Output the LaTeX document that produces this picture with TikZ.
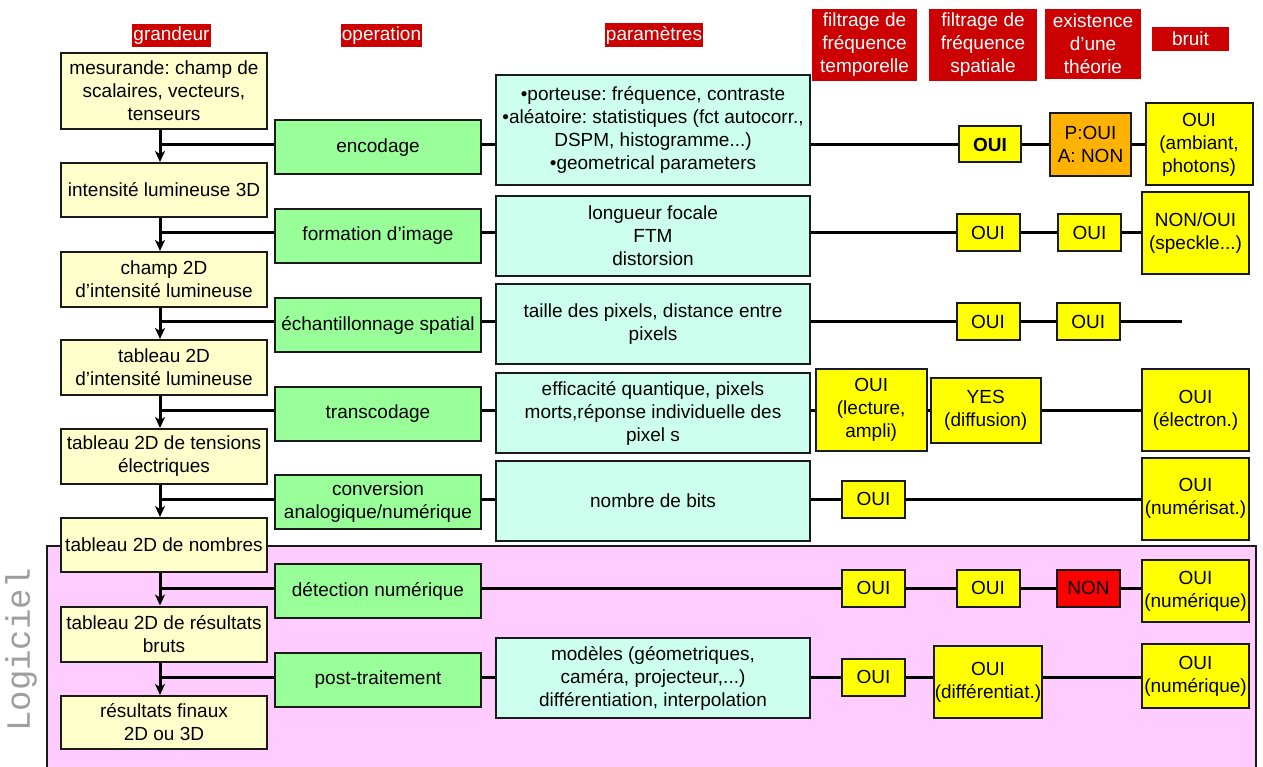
\documentclass[tikz,border=0pt]{standalone}
\usepackage{fontspec}
\setmainfont{Liberation Sans}
\newfontfamily\logifont{Liberation Mono}
\usetikzlibrary{arrows.meta}
\definecolor{hdrred}{HTML}{CC0000}
\definecolor{paleyel}{HTML}{FFFFCC}
\definecolor{opgreen}{HTML}{99FF99}
\definecolor{parcyan}{HTML}{CCFFEE}
\definecolor{resyel}{HTML}{FFFF00}
\definecolor{resorange}{HTML}{FFB300}
\definecolor{resred}{HTML}{FF0000}
\definecolor{pinkbg}{HTML}{FFCCFF}
\definecolor{edgec}{HTML}{1A1A1A}
\frenchspacing
\begin{document}
\begin{tikzpicture}[x=1pt,y=-1pt,
  every node/.style={font=\fontsize{19}{23}\selectfont, align=center, inner sep=0pt},
  hdr/.style={fill=hdrred, text=white},
  boxbase/.style={draw=edgec, line width=2pt, text=black},
  qty/.style={boxbase, fill=paleyel, minimum width=206, minimum height=55},
  oper/.style={boxbase, fill=opgreen, minimum width=206, minimum height=54},
  param/.style={boxbase, fill=parcyan, minimum width=314, minimum height=80},
  res/.style={boxbase, fill=resyel, minimum width=63, minimum height=37},
  conn/.style={draw=black, line width=3pt},
  arr/.style={conn, -{Stealth[length=11pt,width=10pt,inset=3pt]}},
]
\useasboundingbox (0,0) rectangle (1263,767);

% software region
\path[fill=pinkbg, draw=edgec, line width=1.2pt] (47,546) rectangle (1256,775);
\node[rotate=90, font=\logifont\fontsize{34}{34}\selectfont, text=black!38] (lgc) at (21,650) {Logiciel};

% headers
\node[hdr, minimum width=79, minimum height=23] (hgr) at (171.5,35.5) {grandeur};
\node[hdr, minimum width=81, minimum height=23] (hop) at (381.5,35.5) {operation};
\node[hdr, minimum width=98, minimum height=24] (hpa) at (654,35) {paramètres};
\node[hdr, minimum width=105, minimum height=72] (hft) at (864.5,45) {filtrage de\\fréquence\\temporelle};
\node[hdr, minimum width=108, minimum height=72] (hfs) at (983,45) {filtrage de\\fréquence\\spatiale};
\node[hdr, minimum width=96, minimum height=70] (het) at (1093,44) {existence\\d’une\\théorie};
\node[hdr, minimum width=77, minimum height=24] (hbr) at (1190.5,39) {bruit};

% quantities
\node[qty, minimum height=76] (b1) at (164,91) {mesurande: champ de\\scalaires, vecteurs,\\tenseurs};
\node[qty, minimum height=54] (b2) at (164,190) {intensité lumineuse 3D};
\node[qty] (b3) at (164,279.5) {champ 2D\\d’intensité lumineuse};
\node[qty] (b4) at (164,367.5) {tableau 2D\\d’intensité lumineuse};
\node[qty] (b5) at (164,456.5) {tableau 2D de tensions\\électriques};
\node[qty, minimum height=54] (b6) at (164,545) {tableau 2D de nombres};
\node[qty] (b7) at (164,634) {tableau 2D de résultats\\bruts};
\node[qty, minimum height=53] (b8) at (164,722.5) {résultats finaux\\2D ou 3D};

% operations
\node[oper] (o1) at (378,147.5) {encodage};
\node[oper] (o2) at (378,236) {formation d’image};
\node[oper] (o3) at (378,325) {échantillonnage spatial};
\node[oper] (o4) at (378,413.7) {transcodage};
\node[oper] (o5) at (378,502) {conversion\\analogique/numérique};
\node[oper] (o6) at (378,591) {détection numérique};
\node[oper] (o7) at (378,680) {post-traitement};

% parameters
\node[param, minimum height=110] (p1) at (653,130) {•porteuse: fréquence, contraste\\•aléatoire: statistiques (fct autocorr.,\\DSPM, histogramme...)\\•geometrical parameters};
\node[param] (p2) at (653,236) {longueur focale\\FTM\\distorsion};
\node[param] (p3) at (653,324) {taille des pixels, distance entre\\pixels};
\node[param] (p4) at (653,413) {efficacité quantique, pixels\\morts,réponse individuelle des\\pixel s};
\node[param] (p5) at (653,501) {nombre de bits};
\node[param] (p7) at (653,678) {modèles (géometriques,\\caméra, projecteur,...)\\différentiation, interpolation};

% results row 1
\node[res, minimum width=62, minimum height=36] (r1a) at (990,144.5) {\bfseries OUI};
\node[res, fill=resorange, minimum width=81, minimum height=63] (r1b) at (1090.5,144.5) {P:OUI\\A: NON};
\node[res, minimum width=107, minimum height=82] (r1c) at (1199,144.5) {OUI\\(ambiant,\\photons)};
% row 2
\node[res] (r2a) at (988,233) {OUI};
\node[res] (r2b) at (1089.5,233) {OUI};
\node[res, minimum width=107, minimum height=82] (r2c) at (1195.5,233) {NON/OUI\\(speckle...)};
% row 3
\node[res] (r3a) at (988,321.5) {OUI};
\node[res] (r3b) at (1088.3,321.5) {OUI};
\coordinate (e3) at (1182,321.5);
% row 4
\node[res, minimum width=111, minimum height=82] (r4a) at (871.2,410) {OUI\\(lecture,\\ampli)};
\node[res, minimum width=110, minimum height=65] (r4b) at (985.7,410) {YES\\(diffusion)};
\node[res, minimum width=107, minimum height=82] (r4c) at (1195.5,410) {OUI\\(électron.)};
% row 5
\node[res] (r5a) at (873.5,499) {OUI};
\node[res, minimum width=107, minimum height=82] (r5c) at (1195.5,498.5) {OUI\\(numérisat.)};
% row 6
\node[res] (r6a) at (873.5,588) {OUI};
\node[res] (r6b) at (988,588) {OUI};
\node[res, fill=resred] (r6c) at (1088.5,588) {NON};
\node[res, minimum width=107, minimum height=62] (r6d) at (1195.5,591) {OUI\\(numérique)};
% row 7
\node[res] (r7a) at (873.5,677) {OUI};
\node[res, minimum width=108, minimum height=72] (r7b) at (988,682) {OUI\\(différentiat.)};
\node[res, minimum width=107, minimum height=64] (r7c) at (1195.5,676) {OUI\\(numérique)};

% trunk
\coordinate (t1) at ([xshift=-4pt]b1.south);
\coordinate (t2) at ([xshift=-4pt]b2.south);
\coordinate (t3) at ([xshift=-4pt]b3.south);
\coordinate (t4) at ([xshift=-4pt]b4.south);
\coordinate (t5) at ([xshift=-4pt]b5.south);
\coordinate (t6) at ([xshift=-4pt]b6.south);
\coordinate (t7) at ([xshift=-4pt]b7.south);
\draw[arr] (t1) -- ([xshift=-4pt]b2.north);
\draw[arr] (t2) -- ([xshift=-4pt]b3.north);
\draw[arr] (t3) -- ([xshift=-4pt]b4.north);
\draw[arr] (t4) -- ([xshift=-4pt]b5.north);
\draw[arr] (t5) -- ([xshift=-4pt]b6.north);
\draw[arr] (t6) -- ([xshift=-4pt]b7.north);
\draw[arr] (t7) -- ([xshift=-4pt]b8.north);

% row 1
\draw[conn] (t1 |- r1a) -- (o1.west |- r1a);
\draw[conn] (o1.east |- r1a) -- (p1.west |- r1a);
\draw[conn] (p1.east |- r1a) -- (r1a.west);
\draw[conn] (r1a.east) -- (r1b.west);
\draw[conn] (r1b.east) -- (r1c.west |- r1b);
% row 2
\draw[conn] (t2 |- r2a) -- (o2.west |- r2a);
\draw[conn] (o2.east |- r2a) -- (p2.west |- r2a);
\draw[conn] (p2.east |- r2a) -- (r2a.west);
\draw[conn] (r2a.east) -- (r2b.west);
\draw[conn] (r2b.east) -- (r2c.west |- r2b);
% row 3
\draw[conn] (t3 |- r3a) -- (o3.west |- r3a);
\draw[conn] (o3.east |- r3a) -- (p3.west |- r3a);
\draw[conn] (p3.east |- r3a) -- (r3a.west);
\draw[conn] (r3a.east) -- (r3b.west);
\draw[conn] (r3b.east) -- (e3);
% row 4
\draw[conn] (t4 |- r4a) -- (o4.west |- r4a);
\draw[conn] (o4.east |- r4a) -- (p4.west |- r4a);
\draw[conn] (p4.east |- r4a) -- (r4a.west);
\draw[conn] (r4a.east) -- (r4b.west);
\draw[conn] (r4b.east) -- (r4c.west |- r4b);
% row 5
\draw[conn] (t5 |- r5a) -- (o5.west |- r5a);
\draw[conn] (o5.east |- r5a) -- (p5.west |- r5a);
\draw[conn] (p5.east |- r5a) -- (r5a.west);
\draw[conn] (r5a.east) -- (r5c.west |- r5a);
% row 6
\draw[conn] (t6 |- r6a) -- (o6.west |- r6a);
\draw[conn] (o6.east |- r6a) -- (r6a.west);
\draw[conn] (r6a.east) -- (r6b.west);
\draw[conn] (r6b.east) -- (r6c.west);
\draw[conn] (r6c.east) -- (r6d.west |- r6c);
% row 7
\draw[conn] (t7 |- r7a) -- (o7.west |- r7a);
\draw[conn] (o7.east |- r7a) -- (p7.west |- r7a);
\draw[conn] (p7.east |- r7a) -- (r7a.west);
\draw[conn] (r7a.east) -- (r7b.west |- r7a);
\draw[conn] (r7b.east |- r7a) -- (r7c.west |- r7a);
\end{tikzpicture}
\end{document}
